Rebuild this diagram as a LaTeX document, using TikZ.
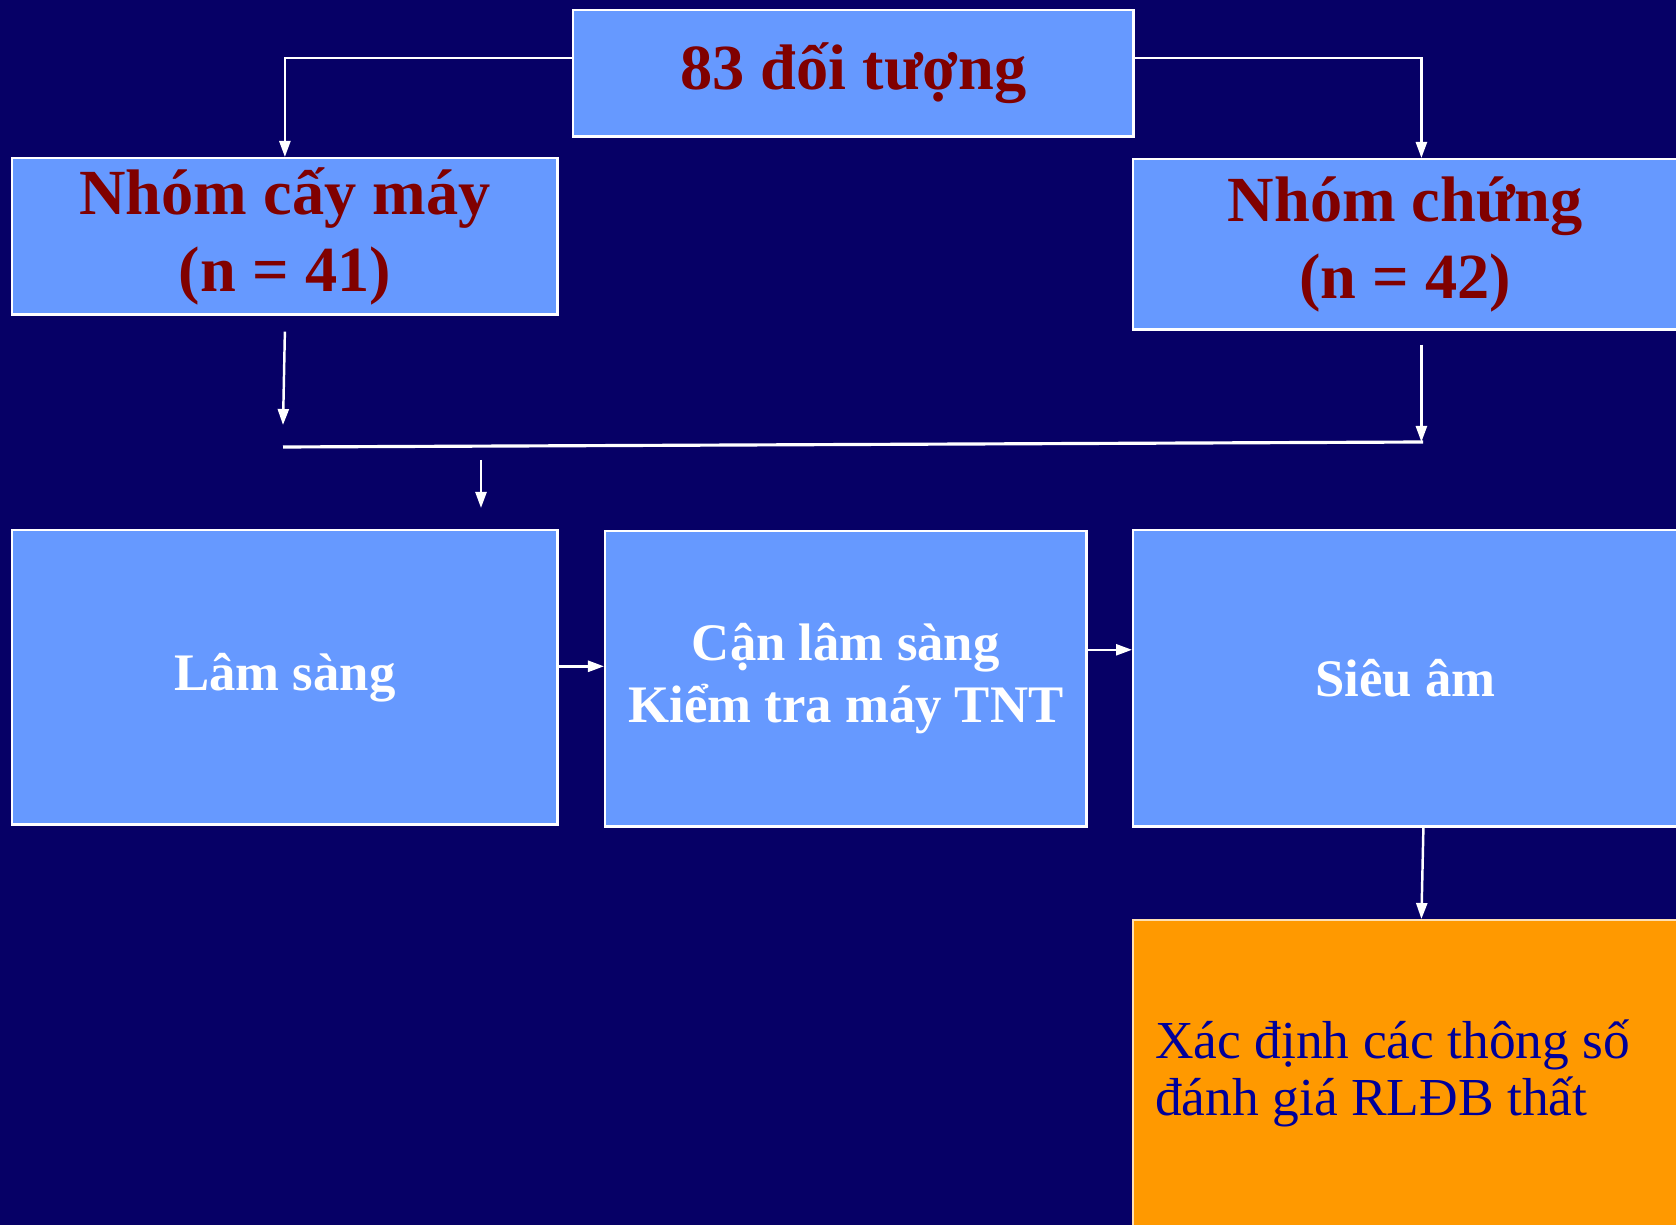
\documentclass[tikz,border=0pt]{standalone}
\usepackage{fontspec}
\setmainfont{Liberation Serif}
\usetikzlibrary{arrows.meta}
\definecolor{navy}{HTML}{060066}
\definecolor{boxblue}{HTML}{6699FF}
\definecolor{darkred}{HTML}{800000}
\definecolor{orangebox}{HTML}{FF9900}
\definecolor{textblue}{HTML}{000099}
\tikzset{
  box/.style={draw=white, line width=0.7pt, fill=boxblue, anchor=north west, inner sep=0pt, align=center},
  title/.style={text=darkred, font=\fontsize{18.3}{22}\selectfont\bfseries},
  plain/.style={text=white, font=\fontsize{15}{17.5}\selectfont\bfseries},
  link/.style={white, line width=0.7pt, -{Triangle[length=0.16cm,width=0.11cm]}},
}
\begin{document}
\begin{tikzpicture}[x=0.01cm, y=-0.01cm]
                            % Background
                            \path[use as bounding box, fill=navy] (0,0) rectangle (1676,1225);

                            % Boxes
                            \node[box, title, minimum width=5.6cm, minimum height=1.26cm] (total) at (572,9) {83 đối tượng};
                            \node[box, title, minimum width=5.45cm, minimum height=1.56cm] (implant) at (11,157) {Nhóm cấy máy\\(n = 41)};
                            \node[box, title, minimum width=5.44cm, minimum height=1.7cm] (control) at (1132,158) {Nhóm chứng\\(n = 42)};
                            \node[box, plain, minimum width=5.45cm, minimum height=2.94cm] (clinic) at (11,529) {Lâm sàng};
                            \node[box, plain, minimum width=4.81cm, minimum height=2.95cm] (lab) at (604,530) {Cận lâm sàng\\Kiểm tra máy TNT};
                            \node[box, plain, minimum width=5.44cm, minimum height=2.96cm] (echo) at (1132,529) {Siêu âm};
                            \node[box, fill=orangebox, draw=white!70!orangebox, text=textblue, minimum width=5.44cm, minimum height=3.06cm,
                                  text width=5.0cm, inner xsep=0.2cm, align=flush left, font=\fontsize{15.2}{16.2}\selectfont] (params) at (1132,919)
                                  {Xác định các thông số\\đánh giá RLĐB thất};

                            % Split into two groups
                            \draw[link] ([yshift=0.15cm]total.west) -| (implant.north);
                            \draw[link] ([yshift=0.15cm]total.east) -| ([xshift=0.16cm]control.north);

                            % Merge line
                            \coordinate (mergeL) at (283,447);
                            \coordinate (mergeR) at (1423,442);
                            \draw[white, line width=0.9pt] (mergeL) -- (mergeR);
                            \draw[link] ([yshift=-0.16cm]implant.south) -- ([yshift=0.22cm]mergeL);
                            \draw[link] ([xshift=0.16cm,yshift=-0.14cm]control.south) -- ([xshift=0.16cm]control.south |- mergeR);
                            \coordinate (gatherTop) at (481,460);
                            \coordinate (gatherEnd) at (481,508);
                            \draw[link] (gatherTop) -- (gatherEnd);

                            % Steps
                            \draw[link] ([yshift=0.11cm]clinic.east) -- ([yshift=0.11cm]clinic.east -| lab.west);
                            \draw[link] ([yshift=0.29cm]lab.east) -- ([yshift=0.29cm]lab.east -| echo.west);
                            \draw[link] ([xshift=0.18cm]echo.south) -- ([xshift=0.16cm]params.north);
                      \end{tikzpicture}
\end{document}
